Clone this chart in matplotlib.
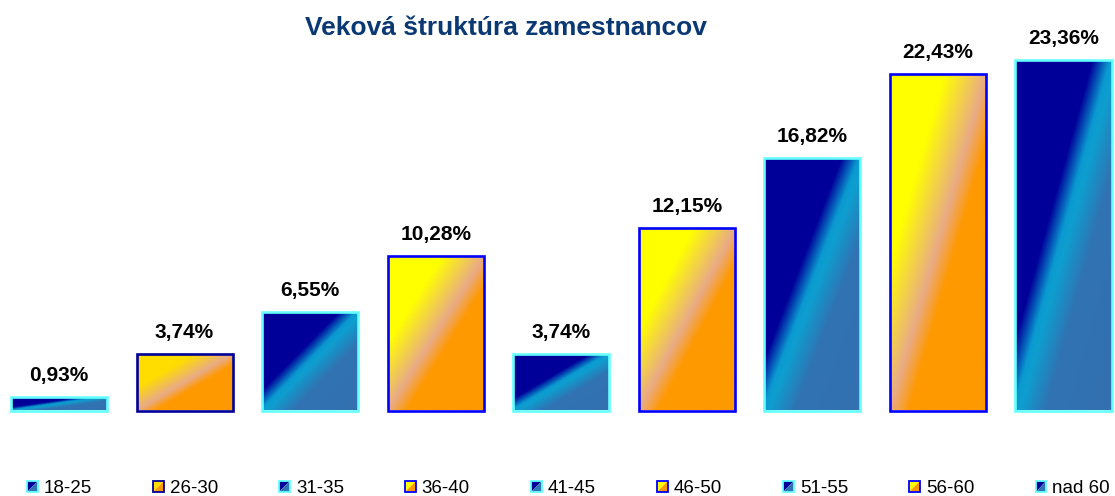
import numpy as np
import matplotlib
matplotlib.use("Agg")
import matplotlib.pyplot as plt
from matplotlib.colors import LinearSegmentedColormap
from matplotlib.legend_handler import HandlerBase
from matplotlib.patches import Polygon, Rectangle

# ==========================
# Données
# ==========================

categories = ["18-25", "26-30", "31-35", "36-40", "41-45",
              "46-50", "51-55", "56-60", "nad 60"]
values = [0.93, 3.74, 6.55, 10.28, 3.74, 12.15, 16.82, 22.43, 23.36]
title = "Veková štruktúra zamestnancov"

# ==========================
# Styles
# ==========================

fills = ["blue", "gold", "blue", "yellow", "blue",
         "yellow", "blue", "yellow", "blue"]
edges = ["#66FFFF", "#000099", "#66FFFF", "#0000FF", "#66FFFF",
         "#0000FF", "#66FFFF", "#0000FF", "#66FFFF"]

cmaps = {
    "blue": LinearSegmentedColormap.from_list("blue", [
        (0.0, "#000099"), (0.40, "#000099"), (0.49, "#0A9AD0"),
        (0.53, "#0E9ECF"), (0.66, "#3073B3"), (1.0, "#3370B0")]),
    "yellow": LinearSegmentedColormap.from_list("yellow", [
        (0.0, "#FFFF00"), (0.28, "#FFFF00"), (0.5, "#E9AB86"),
        (0.6, "#FF9900"), (1.0, "#FF9900")]),
    "gold": LinearSegmentedColormap.from_list("gold", [
        (0.0, "#FFDD00"), (0.3, "#FFDD00"), (0.5, "#E9AB86"),
        (0.6, "#FF9900"), (1.0, "#FF9900")]),
}
legend_colors = {
    "blue": ("#000099", "#2F74B3"),
    "yellow": ("#FFFF00", "#FF9900"),
    "gold": ("#FFDD00", "#FF9900"),
}

plt.rcParams["font.family"] = ["Liberation Sans", "DejaVu Sans"]


class HandlerGrad(HandlerBase):
    # petit carré coupé en diagonale, comme le dégradé des barres
    def create_artists(self, legend, orig_handle, xdescent, ydescent,
                       width, height, fontsize, trans):
        s = min(width, height)
        x0 = -xdescent + (width - s) / 2
        y0 = -ydescent + (height - s) / 2
        dark, light = orig_handle.grad
        up = Polygon([(x0, y0), (x0, y0 + s), (x0 + s, y0 + s)],
                     closed=True, facecolor=dark, edgecolor="none",
                     transform=trans)
        low = Polygon([(x0, y0), (x0 + s, y0), (x0 + s, y0 + s)],
                      closed=True, facecolor=light, edgecolor="none",
                      transform=trans)
        box = Rectangle((x0, y0), s, s, facecolor="none",
                        edgecolor=orig_handle.get_edgecolor(),
                        linewidth=1.3, transform=trans)
        return [up, low, box]


# ==========================
# Graphique
# ==========================

fig = plt.figure(figsize=(11.15, 4.96), dpi=100)
ax = fig.add_axes([5 / 1115, 85.5 / 496, 1112.5 / 1115, 375 / 496])

x = np.arange(len(categories))
bars = ax.bar(x, values, width=0.765, color="none", edgecolor=edges,
              linewidth=1.9, zorder=3, clip_on=False)

n = 256
u = np.linspace(0, 1, n)
U, V = np.meshgrid(u, u)
grad = (U + V) / 2

for bar, kind in zip(bars, fills):
    x0, w, h = bar.get_x(), bar.get_width(), bar.get_height()
    im = ax.imshow(grad, cmap=cmaps[kind], vmin=0, vmax=1,
                   extent=(x0, x0 + w, 0, h), origin="upper",
                   aspect="auto", interpolation="bilinear", zorder=2)
    im.set_clip_path(bar)
    bar.grad = legend_colors[kind]

for bar, v in zip(bars, values):
    ax.annotate(f"{v:.2f}%".replace(".", ","),
                (bar.get_x() + bar.get_width() / 2, bar.get_height()),
                xytext=(0, 16), textcoords="offset pixels",
                ha="center", va="baseline",
                fontsize=15, fontweight="bold")

ax.set_xlim(-0.43, 8.43)
ax.set_ylim(0, 25)
ax.axis("off")

fig.text(505.5 / 1115, 461 / 496, title, ha="center", va="baseline",
         fontsize=19, fontweight="bold", color="#0A3872")

ax.legend(list(bars), categories, ncol=9,
          handler_map={Rectangle: HandlerGrad()},
          loc="center left", bbox_to_anchor=(27 / 1115, 7.5 / 496),
          bbox_transform=fig.transFigure, frameon=False,
          fontsize=13.5, borderpad=0, borderaxespad=0,
          handlelength=0.565, handleheight=0.565, handletextpad=0.32,
          columnspacing=3.27)

fig.savefig("out.png", dpi=100)
